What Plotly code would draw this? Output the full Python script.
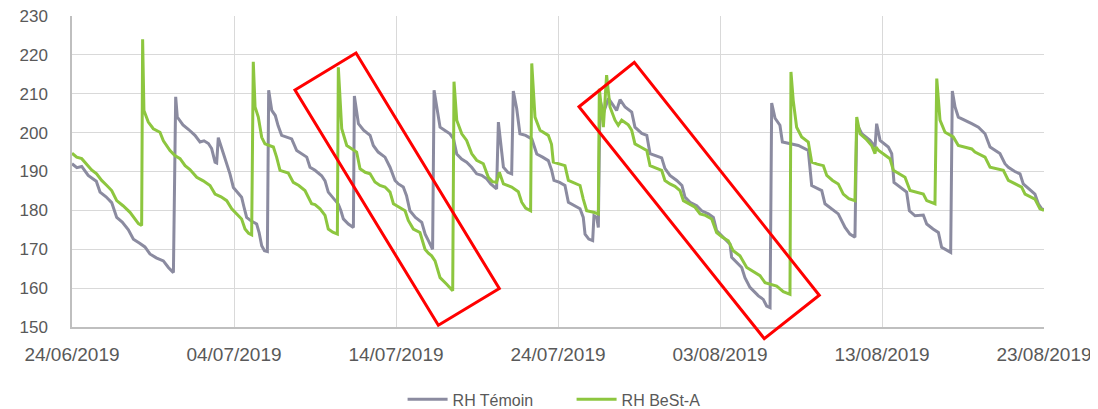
import pandas as pd
import plotly.graph_objects as go

start_date = "2019-06-24"

temoin_days = [0.0, 0.3, 0.6, 1.0, 1.5, 1.73, 2.1, 2.45, 2.76, 3.1, 3.48, 3.79, 4.2, 4.5, 4.81, 5.2, 5.64, 5.95, 6.26,
               6.40, 6.50, 6.85, 7.2, 7.59, 7.90, 8.15, 8.42, 8.62, 8.83, 8.93, 9.03, 9.24, 9.44, 9.75, 9.96, 10.2,
               10.47, 10.62, 10.78, 11.05, 11.40, 11.55, 11.71, 11.88, 12.06, 12.14, 12.33, 12.55, 12.72, 12.94, 13.25,
               13.56, 13.87, 14.18, 14.49, 14.69, 15.0, 15.41, 15.62, 15.82, 16.13, 16.44, 16.6, 16.75, 17.06, 17.37,
               17.43, 17.68, 18.0, 18.40, 18.60, 18.9, 19.32, 19.63, 19.94, 20.15, 20.45, 20.65, 20.86, 21.2, 21.59,
               21.8, 22.0, 22.15, 22.26, 22.35, 22.51, 22.72, 23.0, 23.33, 23.55, 23.75, 24.05, 24.36, 24.67, 24.98,
               25.29, 25.6, 25.85, 26.11, 26.21, 26.32, 26.46, 26.63, 26.9, 27.14, 27.24, 27.45, 27.65, 28.0, 28.38,
               28.69, 29.05, 29.40, 29.61, 29.75, 30.1, 30.43, 30.64, 31.0, 31.36, 31.56, 31.67, 31.9, 32.14, 32.22,
               32.39, 32.49, 32.59, 32.80, 33.11, 33.41, 33.62, 33.83, 34.14, 34.55, 34.75, 35.17, 35.48, 35.68, 36.09,
               36.40, 36.60, 36.91, 37.33, 37.65, 37.84, 38.15, 38.56, 38.87, 39.28, 39.59, 39.79, 40.10, 40.41, 40.62,
               40.72, 41.03, 41.34, 41.54, 41.85, 42.16, 42.37, 42.67, 42.88, 43.09, 43.19, 43.40, 43.70, 43.85, 44.22,
               44.84, 45.45, 45.66, 46.28, 46.48, 47.30, 47.72, 48.02, 48.33, 48.44, 48.75, 49.26, 49.57, 49.67, 49.88,
               50.39, 50.60, 50.74, 51.32, 51.52, 51.69, 52.04, 52.55, 52.76, 53.15, 53.48, 53.68, 53.95, 54.24, 54.34,
               54.51, 54.71, 55.1, 55.54, 55.95, 56.36, 56.67, 57.0, 57.28, 57.59, 57.80, 58.2, 58.52, 58.72, 59.05,
               59.44, 59.65, 59.86, 60.0]
temoin_values = [192.0, 191.0, 191.3, 189.0, 187.5, 184.7, 183.5, 182.0, 178.2, 177.0, 175.0, 172.6, 171.5, 170.6, 168.8,
                 167.8, 167.0, 165.3, 164.0, 209.2, 204.0, 202.0, 200.8, 199.3, 197.6, 197.9, 197.2, 195.9, 192.4, 192.2,
                 198.7, 196.1, 193.5, 189.4, 185.9, 184.6, 183.4, 180.8, 178.2, 177.3, 176.5, 174.3, 170.9, 169.6, 169.4,
                 210.9, 205.7, 204.4, 201.8, 199.3, 198.9, 198.4, 195.4, 194.5, 193.7, 191.1, 190.3, 188.9, 187.6, 184.7,
                 183.0, 181.6, 179.9, 177.8, 176.5, 175.6, 209.4, 202.3, 200.6, 199.3, 196.7, 195.0, 193.7, 191.1, 187.7,
                 186.8, 186.0, 183.8, 179.9, 178.2, 176.9, 173.9, 172.2, 171.0, 170.0, 210.9, 206.6, 201.4, 200.6, 199.7,
                 198.4, 194.5, 193.2, 192.4, 191.1, 189.4, 189.0, 188.1, 186.8, 186.0, 185.5, 202.7, 197.1, 191.1, 189.8,
                 189.4, 210.7, 206.2, 199.7, 199.3, 198.4, 194.5, 193.7, 192.8, 190.3, 187.7, 187.2, 186.4, 182.1, 181.2,
                 180.4, 178.2, 173.9, 172.6, 172.2, 178.6, 178.2, 175.6, 208.5, 205.0, 208.8, 207.0, 205.7, 208.5, 206.6,
                 205.3, 201.4, 199.8, 199.3, 194.6, 194.0, 193.5, 190.8, 189.0, 187.7, 186.4, 183.4, 182.1, 181.2, 179.9,
                 179.1, 178.2, 174.8, 173.5, 172.2, 171.3, 167.9, 166.6, 165.3, 162.7, 160.2, 158.9, 158.0, 157.1, 155.4,
                 155.0, 207.6, 203.7, 201.9, 197.6, 197.3, 196.7, 195.4, 186.4, 185.1, 181.7, 179.1, 175.6, 173.9, 173.1,
                 202.3, 199.7, 198.0, 196.3, 202.3, 198.0, 196.3, 194.6, 187.2, 185.5, 184.7, 179.9, 178.6, 178.8, 176.5,
                 175.2, 174.3, 170.5, 169.9, 169.2, 210.7, 206.6, 204.0, 203.3, 202.3, 201.4, 199.7, 196.3, 195.3, 194.6,
                 192.0, 191.1, 190.0, 189.4, 186.8, 185.5, 184.2, 181.7, 180.4, 180.2]

best_days = [0.0, 0.29, 0.60, 0.91, 1.21, 1.52, 1.83, 2.15, 2.45, 2.76, 3.15, 3.58, 3.89, 4.1, 4.30, 4.36, 4.44, 4.71,
             5.02, 5.43, 5.64, 6.05, 6.35, 6.67, 6.98, 7.28, 7.70, 8.1, 8.52, 8.83, 9.2, 9.55, 9.86, 10.15, 10.47, 10.68,
             10.9, 11.09, 11.19, 11.30, 11.50, 11.71, 11.91, 12.43, 12.63, 12.84, 13.35, 13.66, 14.0, 14.38, 14.55,
             14.79, 15.0, 15.31, 15.62, 15.82, 16.1, 16.38, 16.44, 16.65, 16.96, 17.27, 17.57, 17.78, 18.1, 18.40,
             18.70, 19.01, 19.32, 19.63, 19.84, 20.2, 20.56, 20.76, 21.07, 21.48, 21.79, 22.0, 22.20, 22.41, 22.72,
             23.13, 23.50, 23.58, 23.75, 24.06, 24.36, 24.67, 24.98, 25.39, 25.70, 25.95, 26.21, 26.38, 26.63, 27.14,
             27.55, 27.76, 28.0, 28.31, 28.38, 28.58, 28.89, 29.40, 29.60, 29.71, 30.1, 30.43, 30.64, 31.0, 31.36,
             31.56, 31.77, 32.2, 32.49, 32.55, 32.80, 33.0, 33.21, 33.52, 33.72, 33.93, 34.34, 34.55, 34.75, 35.1,
             35.48, 35.68, 36.05, 36.40, 36.60, 36.91, 37.22, 37.53, 37.74, 38.1, 38.46, 38.77, 39.1, 39.49, 39.79,
             40.15, 40.51, 40.82, 41.23, 41.65, 42.05, 42.47, 42.78, 43.15, 43.50, 43.91, 44.32, 44.38, 44.52, 44.73,
             45.04, 45.45, 45.66, 46.0, 46.38, 46.59, 46.95, 47.30, 47.61, 47.95, 48.33, 48.44, 48.64, 49.0, 49.36,
             49.57, 49.63, 49.77, 50.1, 50.49, 50.70, 51.05, 51.42, 51.73, 52.04, 52.55, 52.76, 53.27, 53.38, 53.58,
             53.89, 54.40, 54.71, 55.1, 55.54, 55.74, 56.05, 56.36, 56.67, 57.1, 57.49, 57.80, 58.2, 58.62, 58.83,
             59.44, 59.75, 60.0]
best_values = [194.7, 193.7, 193.3, 191.8, 190.4, 189.4, 187.7, 186.4, 185.1, 182.5, 181.2, 179.5, 177.8, 176.6, 176.1,
               224.0, 205.7, 202.7, 201.0, 200.1, 197.9, 195.4, 194.1, 193.3, 191.5, 190.5, 188.5, 187.6, 186.4, 184.2,
               183.5, 182.5, 180.4, 179.1, 177.8, 175.2, 174.1, 173.7, 218.2, 206.6, 204.0, 198.8, 197.1, 196.3, 193.7,
               190.3, 189.6, 187.2, 186.4, 185.1, 183.8, 181.7, 181.5, 180.4, 178.7, 175.2, 174.4, 173.9, 216.8, 201.0,
               196.7, 195.9, 195.0, 190.7, 189.8, 189.4, 187.3, 186.4, 186.0, 184.7, 181.7, 180.8, 179.9, 177.4, 175.2,
               174.3, 170.0, 169.0, 168.3, 167.0, 162.7, 161.0, 159.3, 213.1, 203.2, 199.7, 198.0, 194.6, 192.9, 192.0,
               188.5, 187.4, 187.2, 189.8, 186.8, 186.0, 184.8, 182.1, 180.6, 179.9, 217.8, 204.0, 200.6, 199.3, 197.0,
               192.4, 191.9, 191.5, 187.7, 187.0, 186.4, 182.9, 179.9, 179.5, 179.1, 211.3, 201.4, 214.8, 206.6, 203.2,
               201.9, 203.2, 202.0, 200.6, 197.1, 196.3, 195.4, 191.5, 190.8, 190.3, 187.7, 186.8, 186.2, 185.1, 182.5,
               181.6, 180.8, 179.1, 178.7, 177.8, 174.3, 173.1, 172.2, 169.6, 168.3, 165.3, 164.3, 163.2, 161.4, 160.9,
               160.5, 159.1, 158.4, 215.6, 208.3, 201.4, 198.9, 197.6, 192.4, 191.9, 191.5, 189.0, 187.7, 186.8, 184.2,
               183.0, 182.5, 204.0, 199.7, 198.4, 196.7, 194.6, 196.3, 195.5, 194.4, 193.3, 190.3, 189.4, 188.5, 185.1,
               184.7, 184.2, 182.5, 181.7, 213.9, 203.2, 200.1, 198.9, 196.7, 196.2, 195.8, 195.0, 194.3, 193.7, 191.1,
               190.6, 190.3, 187.7, 186.8, 186.0, 184.2, 182.9, 180.4, 180.0]

series_names = ["RH Témoin", "RH BeSt-A"]
y_ticks = [150, 160, 170, 180, 190, 200, 210, 220, 230]

# Highlight boxes (paper coordinates of the corners)
box1 = [(0.2294, 0.7619), (0.2922, 0.8810), (0.4396, 0.1236), (0.3769, 0.0055)]
box2 = [(0.5216, 0.7081), (0.5785, 0.8510), (0.7688, 0.1020), (0.7122, -0.0373)]

base = pd.Timestamp(start_date)
x_temoin = base + pd.to_timedelta(temoin_days, unit="D")
x_best = base + pd.to_timedelta(best_days, unit="D")

fig = go.Figure()
fig.add_trace(go.Scatter(x=x_temoin, y=temoin_values, mode="lines", name=series_names[0],
                         line=dict(color="#8b8ba0", width=3)))
fig.add_trace(go.Scatter(x=x_best, y=best_values, mode="lines", name=series_names[1],
                         line=dict(color="#8dc63f", width=3)))

def box_path(pts):
    s = "M {} {}".format(*pts[0])
    for p in pts[1:]:
        s += " L {} {}".format(*p)
    return s + " Z"

for b in (box1, box2):
    fig.add_shape(type="path", xref="paper", yref="paper", path=box_path(b),
                  line=dict(color="#ff0000", width=3), fillcolor="rgba(0,0,0,0)")

font_family = "Liberation Sans, Arial, sans-serif"
# The page body adds an 8px offset, so the figure is sized to fit the window
fig.update_layout(
    width=1090, height=401,
    margin=dict(l=64, r=54, t=8, b=82, autoexpand=False),
    paper_bgcolor="white", plot_bgcolor="white",
    font=dict(family=font_family, size=19, color="#595959"),
    showlegend=True,
    legend=dict(orientation="h", x=0.362, xanchor="left", xref="container",
                y=0.024, yanchor="middle", yref="container",
                entrywidth=114, entrywidthmode="pixels",
                font=dict(size=16, color="#595959"), itemwidth=40),
    xaxis=dict(
        type="date",
        range=[base, base + pd.Timedelta(days=60)],
        tick0=base, dtick=10 * 24 * 3600 * 1000,
        tickformat="%d/%m/%Y",
        tickfont=dict(size=19),
        showgrid=True, gridcolor="#d9d9d9", gridwidth=1,
        showline=True, linecolor="#bfbfbf", linewidth=1.5,
        ticks="", ticklabelstandoff=9, automargin=False,
        ticklabeloverflow="allow",
        zeroline=False,
    ),
    yaxis=dict(
        range=[150, 230],
        tickvals=y_ticks,
        tickfont=dict(size=17),
        showgrid=True, gridcolor="#d9d9d9", gridwidth=1,
        showline=True, linecolor="#bfbfbf", linewidth=1.5,
        ticks="", ticklabelstandoff=19, automargin=False,
        ticklabeloverflow="allow",
        zeroline=False,
    ),
)

fig.write_html("out.html")
